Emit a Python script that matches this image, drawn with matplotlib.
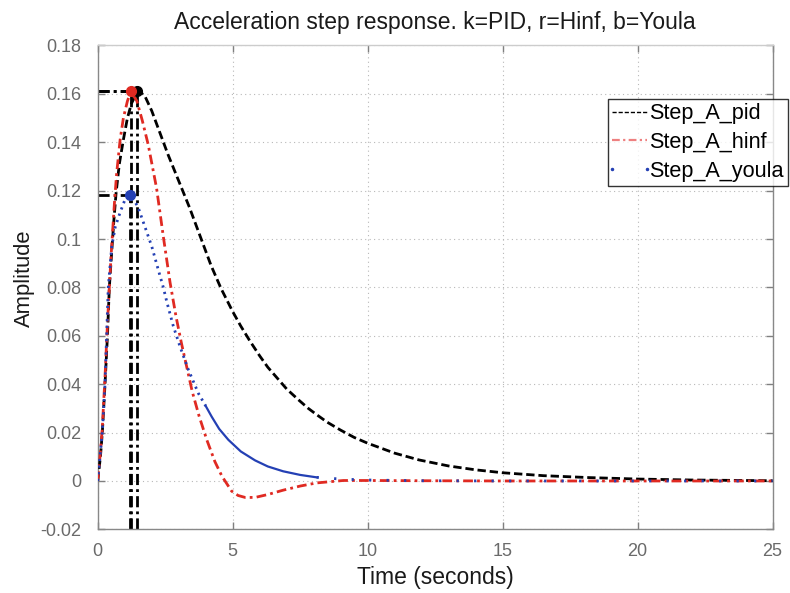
import matplotlib
matplotlib.use("Agg")
import matplotlib.pyplot as plt

plt.rcParams['font.family'] = ['Liberation Sans', 'DejaVu Sans']

# ---- data ----
t_pid = [0, 0.1, 0.17, 0.27, 0.36, 0.43, 0.52, 0.6, 0.68, 0.8, 0.95, 1.1, 1.25, 1.47,
         1.6, 1.75, 2.0, 2.3, 2.6, 3.0, 3.4, 3.8, 4.2, 4.57, 5.0, 5.3, 5.64, 6.0, 6.3, 6.69,
         7.0, 7.43, 7.8, 8.11, 8.5, 9.0, 9.5, 10.0, 11.0, 11.9, 13.0, 14.0, 15.0, 16.5,
         18.2, 20.0, 22.0, 25.0]
y_pid = [0, 0.010, 0.02, 0.04, 0.06, 0.08, 0.095, 0.108, 0.119, 0.131, 0.141, 0.150, 0.156, 0.161,
         0.1605, 0.159, 0.153, 0.144, 0.135, 0.124, 0.113, 0.101, 0.089, 0.0795, 0.070, 0.064, 0.0578, 0.0517, 0.047, 0.042,
         0.038, 0.0336, 0.030, 0.0274, 0.0243, 0.021, 0.018, 0.0156, 0.0115, 0.0087, 0.0062, 0.0046, 0.0034, 0.0022,
         0.0014, 0.0008, 0.0004, 0.0001]

t_hinf = [0, 0.1, 0.17, 0.27, 0.36, 0.43, 0.5, 0.62, 0.7, 0.83, 0.95, 1.1, 1.23, 1.45, 1.65,
          1.87, 2.18, 2.43, 2.68, 2.9, 3.1, 3.3, 3.5, 3.75, 4.04, 4.34, 4.6, 4.96, 5.2, 5.46, 5.83,
          6.3, 6.87, 7.5, 8.11, 9.1, 10.0, 12.0, 15.0, 25.0]
y_hinf = [0, 0.012, 0.022, 0.043, 0.065, 0.08, 0.094, 0.115, 0.127, 0.141, 0.150, 0.157, 0.161, 0.157, 0.149,
          0.139, 0.121, 0.101, 0.082, 0.068, 0.057, 0.047, 0.037, 0.027, 0.017, 0.008, 0.002, -0.0042, -0.0060, -0.0068, -0.0068,
          -0.0056, -0.0038, -0.0021, -0.0008, 0.0002, 0.0002, 0.0001, 0.0, 0.0]

t_youla = [0, 0.1, 0.17, 0.27, 0.33, 0.39, 0.52, 0.65, 0.83, 1.0, 1.2, 1.35, 1.5, 1.75, 2.0,
           2.25, 2.43, 2.56, 2.8, 3.05, 3.36, 3.73, 4.0, 4.22, 4.5, 4.84, 5.3, 5.83, 6.3, 6.87,
           7.5, 8.11, 9.0, 10.0, 12.0, 15.0, 25.0]
y_youla = [0, 0.012, 0.02, 0.04, 0.06, 0.08, 0.097, 0.105, 0.111, 0.116, 0.118, 0.116, 0.113, 0.105, 0.097,
           0.087, 0.080, 0.074, 0.064, 0.0555, 0.0459, 0.0362, 0.031, 0.0266, 0.0215, 0.017, 0.0122, 0.0085, 0.0060, 0.0040,
           0.0025, 0.0015, 0.0008, 0.0004, 0.0001, 0.0, 0.0]

peak_t = [1.47, 1.23, 1.2]
peak_y = [0.161, 0.161, 0.118]
series_names = ['Step_A_pid', 'Step_A_hinf', 'Step_A_youla']
x_ticks = [0, 5, 10, 15, 20, 25]
y_ticks = [-0.02, 0, 0.02, 0.04, 0.06, 0.08, 0.1, 0.12, 0.14, 0.16, 0.18]
y_tick_labels = ['-0.02', '0', '0.02', '0.04', '0.06', '0.08', '0.1', '0.12', '0.14', '0.16', '0.18']

# ---- figure ----
fig = plt.figure(figsize=(7.9, 5.93), dpi=100)
ax = fig.add_axes([0.1237, 0.1073, 0.978 - 0.1237, 0.9234 - 0.1073])

red = '#e02a22'
blue = '#2440b4'
ax.plot(t_pid, y_pid, color='black', lw=2.0, ls=(0, (3, 1.4)), label=series_names[0], zorder=3)
ax.plot(t_hinf, y_hinf, color=red, lw=2.0, ls=(0, (3.5, 1.5, 1, 1.5)), label=series_names[1], zorder=4)

# youla: dotted near the peak, dense (solid-looking) in the slow tail, sparse dots after
i_a = t_youla.index(4.0)
i_b = t_youla.index(8.11)
ax.plot(t_youla[:i_a + 1], y_youla[:i_a + 1], color=blue, lw=2.0, ls=(0, (0.8, 1.6)),
        label=series_names[2], zorder=5)
ax.plot(t_youla[i_a:i_b + 1], y_youla[i_a:i_b + 1], color=blue, lw=1.6, ls='-', zorder=5)
ax.plot(t_youla[i_b:], y_youla[i_b:], color=blue, lw=2.0, ls=(0, (0.8, 5.5)), zorder=5)

ymin = -0.02
for pt, py in zip(peak_t, peak_y):
    ax.plot([pt, pt], [ymin, py], color='black', lw=2.0, ls=(0, (4, 1.5, 1, 1.5)), zorder=2)
    ax.plot([0, pt], [py, py], color='black', lw=2.0, ls=(0, (4, 1.5, 1, 1.5)), zorder=2)

ax.plot(peak_t[0], peak_y[0], 'o', color='black', ms=7, zorder=6)
ax.plot(peak_t[1], peak_y[1], 'o', color=red, ms=7, zorder=7)
ax.plot(peak_t[2], peak_y[2], 'o', color=blue, ms=7, zorder=7)

ax.set_xlim(0, 25)
ax.set_ylim(-0.02, 0.18)
ax.set_xticks(x_ticks)
ax.set_yticks(y_ticks)
ax.set_yticklabels(y_tick_labels)
ax.grid(True, color='#b8b8b8', lw=0.8, ls=(0, (1, 3)))
ax.tick_params(direction='in', length=5, colors='#808080', labelcolor='#6a6a6a',
               labelsize=13, top=True, right=True, width=1)
ax.tick_params(axis='x', pad=10)
ax.tick_params(axis='y', pad=12)
for s in ax.spines.values():
    s.set_color('#888888')
    s.set_linewidth(1.0)
ax.spines['top'].set_color('#cccccc')

ax.set_title('Acceleration step response. k=PID, r=Hinf, b=Youla', fontsize=16.5,
             color='#1a1a1a', pad=11.5)
ax.set_xlabel('Time (seconds)', fontsize=16.5, color='#1a1a1a', labelpad=4)
ax.set_ylabel('Amplitude', fontsize=15.8, color='#1a1a1a')
ax.yaxis.set_label_coords(-0.0936, 0.519)

leg = ax.legend(loc='upper left', bbox_to_anchor=(608 / 790, 1 - 99 / 593),
                bbox_transform=fig.transFigure, fontsize=15.6, frameon=True, fancybox=False,
                borderpad=0.2, labelspacing=0.35, handlelength=1.6, handletextpad=0.1,
                borderaxespad=0)
leg.get_frame().set_edgecolor('black')
leg.get_frame().set_linewidth(1.0)
lines = leg.get_lines()
lines[0].set_linewidth(1.0)
lines[1].set_linewidth(1.6)
lines[1].set_color('#ee8080')
n_pts = len(lines[2].get_xdata())
lines[2].set_linestyle('none')
lines[2].set_marker('.')
lines[2].set_markersize(3)
lines[2].set_markevery([0, n_pts - 1])

fig.savefig('out.png', dpi=100)
